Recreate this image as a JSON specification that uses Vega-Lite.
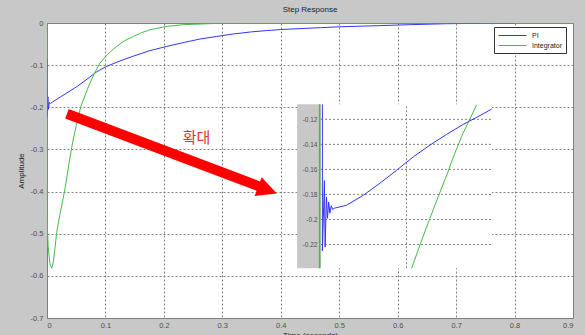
{
  "$schema": "https://vega.github.io/schema/vega-lite/v6.json",
  "width": 526,
  "height": 295,
  "autosize": {"type": "none"},
  "padding": {"left": 47, "top": 23, "right": 12, "bottom": 17},
  "background": "#c8c8c8",
  "title": {"text": "Step Response", "fontSize": 8, "font": "Liberation Sans", "fontWeight": "normal", "color": "#222", "offset": 5},
  "config": {
    "view": {"fill": "white", "stroke": "#808080", "strokeWidth": 1},
    "axis": {"labelFont": "Liberation Sans", "labelFontSize": 7.5, "labelColor": "#505050", "titleFont": "Liberation Sans", "titleFontSize": 8, "titleFontWeight": "normal", "titleColor": "#222", "gridDash": [2, 2], "gridColor": "#808080", "gridOpacity": 1, "domain": false, "ticks": false}
  },
  "datasets": {
    "main": [
      {"s": "PI", "i": 0, "t": 0, "y": -0.087},
      {"s": "PI", "i": 1, "t": 0.0005, "y": -0.222},
      {"s": "PI", "i": 2, "t": 0.0015, "y": -0.175},
      {"s": "PI", "i": 3, "t": 0.0025, "y": -0.205},
      {"s": "PI", "i": 4, "t": 0.004, "y": -0.188},
      {"s": "PI", "i": 5, "t": 0.006, "y": -0.191},
      {"s": "PI", "i": 6, "t": 0.01, "y": -0.187},
      {"s": "PI", "i": 7, "t": 0.02, "y": -0.178},
      {"s": "PI", "i": 8, "t": 0.034, "y": -0.166},
      {"s": "PI", "i": 9, "t": 0.05, "y": -0.152},
      {"s": "PI", "i": 10, "t": 0.065, "y": -0.137},
      {"s": "PI", "i": 11, "t": 0.085, "y": -0.116},
      {"s": "PI", "i": 12, "t": 0.1, "y": -0.104},
      {"s": "PI", "i": 13, "t": 0.125, "y": -0.09},
      {"s": "PI", "i": 14, "t": 0.147, "y": -0.079},
      {"s": "PI", "i": 15, "t": 0.175, "y": -0.066},
      {"s": "PI", "i": 16, "t": 0.205, "y": -0.0555},
      {"s": "PI", "i": 17, "t": 0.235, "y": -0.046},
      {"s": "PI", "i": 18, "t": 0.262, "y": -0.038},
      {"s": "PI", "i": 19, "t": 0.29, "y": -0.032},
      {"s": "PI", "i": 20, "t": 0.319, "y": -0.026},
      {"s": "PI", "i": 21, "t": 0.35, "y": -0.021},
      {"s": "PI", "i": 22, "t": 0.376, "y": -0.018},
      {"s": "PI", "i": 23, "t": 0.4, "y": -0.0155},
      {"s": "PI", "i": 24, "t": 0.433, "y": -0.0133},
      {"s": "PI", "i": 25, "t": 0.47, "y": -0.011},
      {"s": "PI", "i": 26, "t": 0.5, "y": -0.009},
      {"s": "PI", "i": 27, "t": 0.57, "y": -0.0062},
      {"s": "PI", "i": 28, "t": 0.62, "y": -0.004},
      {"s": "PI", "i": 29, "t": 0.684, "y": -0.0017},
      {"s": "PI", "i": 30, "t": 0.75, "y": -0.0005},
      {"s": "PI", "i": 31, "t": 0.8, "y": 0},
      {"s": "Integrator", "i": 0, "t": 0, "y": 0},
      {"s": "Integrator", "i": 1, "t": 0, "y": -0.46},
      {"s": "Integrator", "i": 2, "t": 0.002, "y": -0.53},
      {"s": "Integrator", "i": 3, "t": 0.005, "y": -0.572},
      {"s": "Integrator", "i": 4, "t": 0.008, "y": -0.582},
      {"s": "Integrator", "i": 5, "t": 0.011, "y": -0.565},
      {"s": "Integrator", "i": 6, "t": 0.014, "y": -0.53},
      {"s": "Integrator", "i": 7, "t": 0.0166, "y": -0.497},
      {"s": "Integrator", "i": 8, "t": 0.022, "y": -0.455},
      {"s": "Integrator", "i": 9, "t": 0.028, "y": -0.414},
      {"s": "Integrator", "i": 10, "t": 0.033, "y": -0.375},
      {"s": "Integrator", "i": 11, "t": 0.038, "y": -0.33},
      {"s": "Integrator", "i": 12, "t": 0.043, "y": -0.29},
      {"s": "Integrator", "i": 13, "t": 0.05, "y": -0.243},
      {"s": "Integrator", "i": 14, "t": 0.058, "y": -0.198},
      {"s": "Integrator", "i": 15, "t": 0.066, "y": -0.168},
      {"s": "Integrator", "i": 16, "t": 0.0736, "y": -0.1425},
      {"s": "Integrator", "i": 17, "t": 0.082, "y": -0.117},
      {"s": "Integrator", "i": 18, "t": 0.0907, "y": -0.095},
      {"s": "Integrator", "i": 19, "t": 0.104, "y": -0.074},
      {"s": "Integrator", "i": 20, "t": 0.119, "y": -0.0556},
      {"s": "Integrator", "i": 21, "t": 0.133, "y": -0.042},
      {"s": "Integrator", "i": 22, "t": 0.148, "y": -0.0318},
      {"s": "Integrator", "i": 23, "t": 0.162, "y": -0.023},
      {"s": "Integrator", "i": 24, "t": 0.176, "y": -0.016},
      {"s": "Integrator", "i": 25, "t": 0.205, "y": -0.008},
      {"s": "Integrator", "i": 26, "t": 0.233, "y": -0.004},
      {"s": "Integrator", "i": 27, "t": 0.29, "y": -0.001},
      {"s": "Integrator", "i": 28, "t": 0.35, "y": 0},
      {"s": "Integrator", "i": 29, "t": 0.9, "y": 0}
    ],
    "arrow": [
      {"t": 0.0342, "y": -0.2154},
      {"t": 0.3628, "y": -0.3876}
    ],
    "arrowHead": [
      {"t": 0.3773, "y": -0.3964}
    ],
    "note": [
      {"t": 0.256, "y": -0.273, "label": "확대"}
    ],
    "insetPI": [
      {"i": 0, "t": 0.0008, "y": -0.108},
      {"i": 1, "t": 0.0008, "y": -0.225},
      {"i": 2, "t": 0.002, "y": -0.169},
      {"i": 3, "t": 0.0024, "y": -0.222},
      {"i": 4, "t": 0.0032, "y": -0.182},
      {"i": 5, "t": 0.0038, "y": -0.199},
      {"i": 6, "t": 0.0045, "y": -0.186},
      {"i": 7, "t": 0.0052, "y": -0.195},
      {"i": 8, "t": 0.006, "y": -0.189},
      {"i": 9, "t": 0.0068, "y": -0.192},
      {"i": 10, "t": 0.0078, "y": -0.191},
      {"i": 11, "t": 0.015, "y": -0.1886},
      {"i": 12, "t": 0.0248, "y": -0.1806},
      {"i": 13, "t": 0.0345, "y": -0.171},
      {"i": 14, "t": 0.0443, "y": -0.1606},
      {"i": 15, "t": 0.054, "y": -0.15},
      {"i": 16, "t": 0.0637, "y": -0.1406},
      {"i": 17, "t": 0.0735, "y": -0.132},
      {"i": 18, "t": 0.0832, "y": -0.124},
      {"i": 19, "t": 0.093, "y": -0.117},
      {"i": 20, "t": 0.0998, "y": -0.1118}
    ],
    "insetIntEdge": [
      {"i": 0, "t": -0.0008, "y": -0.108},
      {"i": 1, "t": -0.0008, "y": -0.239}
    ],
    "insetInt": [
      {"i": 0, "t": 0.053, "y": -0.239},
      {"i": 1, "t": 0.0585, "y": -0.218},
      {"i": 2, "t": 0.0637, "y": -0.199},
      {"i": 3, "t": 0.0685, "y": -0.182},
      {"i": 4, "t": 0.0735, "y": -0.1646},
      {"i": 5, "t": 0.078, "y": -0.148},
      {"i": 6, "t": 0.083, "y": -0.1312},
      {"i": 7, "t": 0.087, "y": -0.12},
      {"i": 8, "t": 0.091, "y": -0.1085}
    ],
    "insetGrid": [
      {"y": -0.12}, {"y": -0.14}, {"y": -0.16}, {"y": -0.18}, {"y": -0.2}, {"y": -0.22}
    ]
  },
  "layer": [
    {
      "layer": [
        {
          "data": {"name": "main"},
          "mark": {"type": "line", "strokeWidth": 1, "clip": true},
          "encoding": {
            "x": {"field": "t", "type": "quantitative", "scale": {"domain": [0, 0.9], "nice": false, "zero": false},
                  "axis": {"title": "Time (seconds)", "values": [0, 0.1, 0.2, 0.3, 0.4, 0.5, 0.6, 0.7, 0.8, 0.9], "format": "~g", "grid": true, "labelPadding": 3, "titlePadding": 3}},
            "y": {"field": "y", "type": "quantitative", "scale": {"domain": [-0.7, 0], "nice": false, "zero": false},
                  "axis": {"title": "Amplitude", "values": [-0.7, -0.6, -0.5, -0.4, -0.3, -0.2, -0.1, 0], "format": "~g", "labelExpr": "replace(datum.label, '\u2212', '-')", "grid": true, "labelPadding": 4, "titlePadding": 5}},
            "color": {"field": "s", "type": "nominal", "scale": {"domain": ["PI", "Integrator"], "range": ["#3434f4", "#46bb46"]},
                      "legend": {"orient": "none", "legendX": 447, "legendY": 4, "title": null, "fillColor": "white", "strokeColor": "#333", "padding": 4, "symbolType": "M-1,0H6", "symbolSize": 64, "symbolStrokeWidth": 1, "labelFontSize": 7, "labelOffset": 25, "rowPadding": 2, "labelFont": "Liberation Sans", "labelColor": "#222"}},
            "order": {"field": "i", "type": "quantitative"}
          }
        },
        {
          "data": {"name": "arrow"},
          "mark": {"type": "line", "color": "#ff0000", "strokeWidth": 10, "strokeCap": "butt"},
          "encoding": {
            "x": {"field": "t", "type": "quantitative"},
            "y": {"field": "y", "type": "quantitative"}
          }
        },
        {
          "data": {"name": "arrowHead"},
          "mark": {"type": "point", "shape": "M-1,-1L1,0L-1,1Z", "filled": true, "color": "#ff0000", "opacity": 1, "size": 400, "angle": 20.6},
          "encoding": {
            "x": {"field": "t", "type": "quantitative"},
            "y": {"field": "y", "type": "quantitative"}
          }
        },
        {
          "data": {"name": "note"},
          "mark": {"type": "text", "font": "Noto Sans CJK KR", "fontSize": 15, "color": "#e3342c", "align": "center", "baseline": "middle"},
          "encoding": {
            "x": {"field": "t", "type": "quantitative"},
            "y": {"field": "y", "type": "quantitative"},
            "text": {"field": "label"}
          }
        }
      ]
    },
    {
      "layer": [
        {
          "data": {"values": [{}]},
          "mark": {"type": "rect", "color": "#c8c8c8"},
          "encoding": {
            "x": {"datum": -0.014, "type": "quantitative", "scale": {"domain": [0, 0.1], "range": [274, 445], "nice": false, "zero": false}, "axis": null},
            "x2": {"datum": 0},
            "y": {"datum": -0.239, "type": "quantitative", "scale": {"domain": [-0.239, -0.108], "range": [245.3, 81.3], "nice": false, "zero": false},
                  "axis": {"orient": "left", "offset": -274, "zindex": 2, "title": null, "grid": false, "values": [-0.22, -0.2, -0.18, -0.16, -0.14, -0.12], "format": "~g", "labelExpr": "replace(datum.label, '\u2212', '-')", "labelFontSize": 6.5, "labelPadding": 4}},
            "y2": {"datum": -0.108}
          }
        },
        {
          "data": {"values": [{}]},
          "mark": {"type": "rect", "color": "white"},
          "encoding": {
            "x": {"datum": 0, "type": "quantitative"},
            "x2": {"datum": 0.1},
            "y": {"datum": -0.239, "type": "quantitative"},
            "y2": {"datum": -0.108}
          }
        },
        {
          "data": {"name": "insetGrid"},
          "mark": {"type": "rule", "color": "#808080", "strokeDash": [2, 2], "strokeWidth": 1},
          "encoding": {
            "x": {"datum": 0, "type": "quantitative"},
            "x2": {"datum": 0.1},
            "y": {"field": "y", "type": "quantitative"}
          }
        },
        {
          "data": {"values": [{}]},
          "mark": {"type": "rule", "color": "#808080", "strokeDash": [2, 2], "strokeWidth": 1},
          "encoding": {
            "x": {"datum": 0.05, "type": "quantitative"},
            "y": {"datum": -0.239, "type": "quantitative"},
            "y2": {"datum": -0.108}
          }
        },
        {
          "data": {"name": "insetIntEdge"},
          "mark": {"type": "line", "color": "#46bb46", "strokeWidth": 1.5},
          "encoding": {
            "x": {"field": "t", "type": "quantitative"},
            "y": {"field": "y", "type": "quantitative"},
            "order": {"field": "i", "type": "quantitative"}
          }
        },
        {
          "data": {"name": "insetInt"},
          "mark": {"type": "line", "color": "#46bb46", "strokeWidth": 1},
          "encoding": {
            "x": {"field": "t", "type": "quantitative"},
            "y": {"field": "y", "type": "quantitative"},
            "order": {"field": "i", "type": "quantitative"}
          }
        },
        {
          "data": {"name": "insetPI"},
          "mark": {"type": "line", "color": "#3434f4", "strokeWidth": 1},
          "encoding": {
            "x": {"field": "t", "type": "quantitative"},
            "y": {"field": "y", "type": "quantitative"},
            "order": {"field": "i", "type": "quantitative"}
          }
        }
      ]
    }
  ],
  "resolve": {"scale": {"x": "independent", "y": "independent"}, "axis": {"x": "independent", "y": "independent"}}
}
